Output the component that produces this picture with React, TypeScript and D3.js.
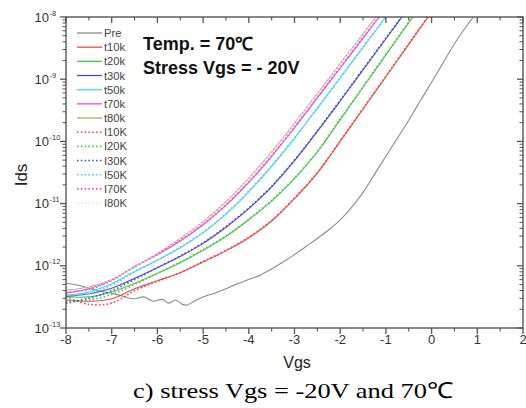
import React from "react";
import * as d3 from "d3";

// ---- data (log10 of Ids) ----
const vgsGrid = [-8, -7.5, -7, -6.5, -6, -5.5, -5, -4.5, -4, -3.5, -3, -2.5, -2, -1.5, -1, -0.5, 0];

const preVgs = [-8, -7.75, -7.5, -7.25, -7, -6.75, -6.5, -6.3, -6.1, -5.9, -5.75, -5.6, -5.45, -5.35, -5.2, -5, -4.75, -4.5, -4.25, -4, -3.75, -3.5, -3.25, -3, -2.75, -2.5, -2.25, -2, -1.75, -1.5, -1.25, -1, -0.75, -0.5, -0.25, 0, 0.25, 0.5, 0.75, 1];
const preLog = [-12.28, -12.31, -12.36, -12.41, -12.44, -12.49, -12.53, -12.5, -12.57, -12.54, -12.6, -12.55, -12.62, -12.63, -12.57, -12.5, -12.44, -12.37, -12.29, -12.22, -12.15, -12.05, -11.94, -11.82, -11.69, -11.56, -11.42, -11.26, -11.06, -10.82, -10.53, -10.24, -9.95, -9.66, -9.35, -9.05, -8.74, -8.43, -8.16, -7.92];

const t10k = [-12.55, -12.57, -12.53, -12.37, -12.24, -12.11, -11.94, -11.76, -11.55, -11.28, -10.92, -10.51, -10.0, -9.48, -8.96, -8.44, -7.92];
const t20k = [-12.5, -12.5, -12.42, -12.28, -12.12, -11.95, -11.75, -11.53, -11.26, -10.96, -10.6, -10.17, -9.65, -9.13, -8.61, -8.09, -7.57];
const t30k = [-12.49, -12.45, -12.36, -12.2, -12.03, -11.85, -11.64, -11.38, -11.08, -10.73, -10.31, -9.84, -9.35, -8.85, -8.35, -7.85];
const t50k = [-12.47, -12.42, -12.29, -12.09, -11.91, -11.71, -11.47, -11.17, -10.81, -10.4, -9.95, -9.47, -8.98, -8.49, -8.0, -7.51];
const t70k = [-12.44, -12.37, -12.23, -12.01, -11.82, -11.6, -11.34, -11.03, -10.66, -10.24, -9.78, -9.3, -8.82, -8.34, -7.86];
const t80k = [-12.39, -12.34, -12.22, -12.02, -11.8, -11.56, -11.29, -10.97, -10.59, -10.17, -9.71, -9.23, -8.75, -8.27, -7.79];

const i10K = [-12.5, -12.62, -12.6, -12.4, -12.25, -12.11, -11.93, -11.75, -11.54, -11.27, -10.91, -10.5, -9.99, -9.47, -8.95, -8.43, -7.91];
const i20K = [-12.56, -12.55, -12.46, -12.3, -12.12, -11.94, -11.74, -11.52, -11.25, -10.95, -10.59, -10.16, -9.64, -9.12, -8.6, -8.08, -7.56];
const i30K = [-12.6, -12.52, -12.4, -12.22, -12.03, -11.84, -11.63, -11.37, -11.07, -10.72, -10.3, -9.83, -9.34, -8.84, -8.34, -7.84];
const i50K = [-12.47, -12.45, -12.31, -12.1, -11.91, -11.7, -11.46, -11.16, -10.8, -10.39, -9.94, -9.46, -8.97, -8.48, -7.99, -7.5];
const i70K = [-12.42, -12.38, -12.24, -12.02, -11.82, -11.59, -11.33, -11.02, -10.65, -10.23, -9.77, -9.29, -8.81, -8.33, -7.85];
const i80K = [-12.4, -12.35, -12.22, -12.02, -11.8, -11.56, -11.29, -10.97, -10.59, -10.17, -9.71, -9.23, -8.75, -8.27, -7.79];

const seriesNames = ["Pre", "t10k", "t20k", "t30k", "t50k", "t70k", "t80k", "I10K", "I20K", "I30K", "I50K", "I70K", "I80K"];
const seriesColors = ["#8a8a8a", "#f04848", "#44cc44", "#4a4ad8", "#44d8f0", "#f048e0", "#b8a474", "#f04848", "#44cc44", "#4a4ad8", "#44d8f0", "#f048e0", "#e4e4e4"];
const seriesDotted = [false, false, false, false, false, false, false, true, true, true, true, true, true];
const seriesLogs = [preLog, t10k, t20k, t30k, t50k, t70k, t80k, i10K, i20K, i30K, i50K, i70K, i80K];

const xTicks = [-8, -7, -6, -5, -4, -3, -2, -1, 0, 1, 2];
const yExps = [-13, -12, -11, -10, -9, -8];

const FONT = "'Liberation Sans', Arial, sans-serif";

export default function App() {
  const W = 526, H = 408;
  const L = 66, R = 523, T = 17, B = 328;
  const x = d3.scaleLinear().domain([-8, 2]).range([L, R]);
  const y = d3.scaleLog().domain([1e-13, 1e-8]).range([B, T]);

  const line = d3
    .line<[number, number]>()
    .x((d) => x(d[0]))
    .y((d) => y(Math.pow(10, d[1])))
    .curve(d3.curveCatmullRom.alpha(0.5));

  const paths = seriesLogs.map((logs, i) => {
    const xs = i === 0 ? preVgs : vgsGrid;
    const pts: [number, number][] = logs.map((v, k) => [xs[k], v]);
    return line(pts) || "";
  });

  const minorX = d3.range(-7.5, 2, 1);
  const minorY: number[] = [];
  for (let e = -13; e < -8; e++) for (let m = 2; m < 10; m++) minorY.push(m * Math.pow(10, e));

  const axisColor = "#555";
  const legendY0 = 33, legendDy = 14.17;

  return (
    <svg width={W} height={H} style={{ display: "block", position: "absolute", left: 0, top: 0, background: "#fff" }}>
      <defs>
        <clipPath id="plotclip">
          <rect x={L} y={T} width={R - L} height={B - T} />
        </clipPath>
      </defs>
      <rect x={0} y={0} width={W} height={H} fill="#fff" />

      {/* curves */}
      <g clipPath="url(#plotclip)">
        {paths.map((p, i) => (
          <path
            key={i}
            d={p}
            fill="none"
            stroke={seriesColors[i]}
            strokeWidth={seriesDotted[i] ? 1.6 : 1.1}
            strokeDasharray={seriesDotted[i] ? "1.6,2.2" : undefined}
          />
        ))}
      </g>

      {/* frame */}
      <rect x={L} y={T} width={R - L} height={B - T} fill="none" stroke={axisColor} strokeWidth={1.4} />

      {/* x ticks bottom (out) and top (in) */}
      {xTicks.map((t) => (
        <g key={"xt" + t}>
          <line x1={x(t)} x2={x(t)} y1={B} y2={B + 6} stroke={axisColor} strokeWidth={1.3} />
          <line x1={x(t)} x2={x(t)} y1={T} y2={T + 6} stroke={axisColor} strokeWidth={1.3} />
          <text x={x(t)} y={B + 16} textAnchor="middle" fontFamily={FONT} fontSize={13} fill="#333">
            {t}
          </text>
        </g>
      ))}
      {minorX.map((t) => (
        <g key={"xm" + t}>
          <line x1={x(t)} x2={x(t)} y1={B} y2={B + 3.5} stroke={axisColor} strokeWidth={1.1} />
          <line x1={x(t)} x2={x(t)} y1={T} y2={T + 3.5} stroke={axisColor} strokeWidth={1.1} />
        </g>
      ))}

      {/* y ticks left (out) and right (in) */}
      {yExps.map((e) => {
        const yy = y(Math.pow(10, e));
        return (
          <g key={"yt" + e}>
            <line x1={L - 6} x2={L} y1={yy} y2={yy} stroke={axisColor} strokeWidth={1.3} />
            <line x1={R - 6} x2={R} y1={yy} y2={yy} stroke={axisColor} strokeWidth={1.3} />
            <text x={49} y={yy + 4.5} textAnchor="end" fontFamily={FONT} fontSize={13} fill="#333">
              10
            </text>
            <text x={49.5} y={yy - 1.5} textAnchor="start" fontFamily={FONT} fontSize={7.5} fill="#333">
              {e}
            </text>
          </g>
        );
      })}
      {minorY.map((v, i) => (
        <g key={"ym" + i}>
          <line x1={L - 3.5} x2={L} y1={y(v)} y2={y(v)} stroke={axisColor} strokeWidth={1} />
          <line x1={R - 3.5} x2={R} y1={y(v)} y2={y(v)} stroke={axisColor} strokeWidth={1} />
        </g>
      ))}

      {/* axis titles */}
      <text x={297} y={368} textAnchor="middle" fontFamily={FONT} fontSize={16} fill="#222">
        Vgs
      </text>
      <text
        transform="translate(27,175) rotate(-90)"
        textAnchor="middle"
        fontFamily={FONT}
        fontSize={17}
        fill="#222"
      >
        Ids
      </text>

      {/* legend */}
      {seriesNames.map((n, i) => {
        const ly = legendY0 + i * legendDy;
        return (
          <g key={"lg" + n}>
            <line
              x1={77}
              x2={102}
              y1={ly}
              y2={ly}
              stroke={seriesColors[i]}
              strokeWidth={seriesDotted[i] ? 1.6 : 1.3}
              strokeDasharray={seriesDotted[i] ? "1.6,2.2" : undefined}
            />
            <text x={104} y={ly + 4} fontFamily={FONT} fontSize={11.2} fill="#444">
              {n}
            </text>
          </g>
        );
      })}

      {/* annotations */}
      <text x={143} y={50} fontFamily={FONT} fontSize={18} fontWeight="bold" fill="#111">
        Temp. = 70℃
      </text>
      <text x={143} y={74} fontFamily={FONT} fontSize={18} fontWeight="bold" fill="#111">
        Stress Vgs = - 20V
      </text>

      {/* caption */}
      <text
        transform="translate(293,398) scale(1.2,1)"
        textAnchor="middle"
        fontFamily="'Liberation Serif', 'Times New Roman', serif"
        fontSize={22}
        fill="#000"
      >
        c) stress Vgs = -20V and 70℃
      </text>
    </svg>
  );
}
